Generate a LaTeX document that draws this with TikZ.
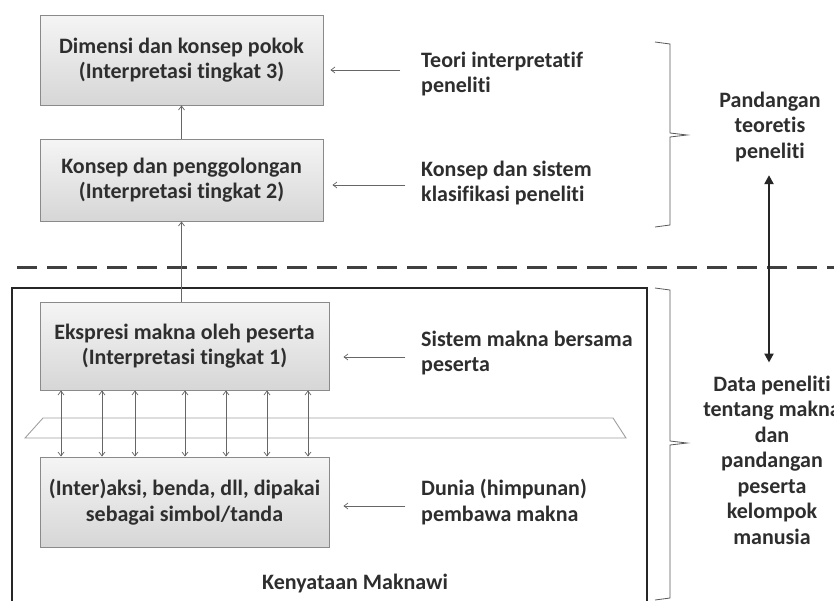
\documentclass[tikz,border=0pt]{standalone}
\usepackage{fontspec}
\setmainfont{Carlito}[Ligatures=NoCommon]
\usetikzlibrary{arrows.meta,calc}
\definecolor{txt}{HTML}{2E2E2E}
\definecolor{boxline}{HTML}{8A8A8A}
\begin{document}
\begin{tikzpicture}[x=1pt,y=-1pt,
  every node/.style={font=\fontsize{22}{25.5}\selectfont\bfseries, text=txt},
  sbox/.style={draw=boxline, line width=0.9pt, top color=gray!8, bottom color=gray!32, align=center, inner sep=0pt},
  lbl/.style={anchor=west, align=left, inner sep=0pt},
  rlbl/.style={align=center, inner sep=0pt},
  arr/.style={draw=gray!80!black, line width=0.7pt, -{Straight Barb[length=4pt,width=6pt]}},
  darr/.style={draw=gray!80!black, line width=0.7pt, {Straight Barb[length=4pt,width=6pt]}-{Straight Barb[length=4pt,width=6pt]}},
  brk/.style={draw=gray!70!black, line width=0.8pt},
  bigarr/.style={draw=black!85, line width=2.2pt, {Triangle[length=9pt,width=9pt]}-{Triangle[length=9pt,width=9pt]}}
]
\clip (0,0) rectangle (834,600);
\fill[white] (0,0) rectangle (834,600);

% dashed separator
\draw[draw=black!75, line width=3pt, dash pattern=on 20pt off 10pt] (17,267) -- (834,267);

% outer frame
\draw[black!85, line width=2pt] (12,288) rectangle (647,612);

% boxes
\node[sbox, minimum width=283pt, minimum height=90pt] (b3) at (181.5,60) {Dimensi dan konsep pokok\\(Interpretasi tingkat 3)};
\node[sbox, minimum width=283pt, minimum height=82pt] (b2) at (181.5,180) {Konsep dan penggolongan\\(Interpretasi tingkat 2)};
\node[sbox, minimum width=289pt, minimum height=88pt] (b1) at (184.5,346) {Ekspresi makna oleh peserta\\(Interpretasi tingkat 1)};
\node[sbox, minimum width=289pt, minimum height=90pt] (b0) at (184.5,502) {(Inter)aksi, benda, dll, dipakai\\sebagai simbol/tanda};

% parallelogram
\draw[draw=gray!75, line width=0.9pt] (25,438) -- (43,418) -- (613,418) -- (626,438) -- cycle;

% vertical arrows
\draw[arr] (b2) -- (b3);
\draw[arr] (b1.north -| b2) -- (b2.south);
\foreach \x in {61,102,135,185,226,267,308}{
  \coordinate (c\x) at (\x,0);
  \draw[darr] (b1.south -| c\x) -- (b0.north -| c\x);
}

% labels
\node[lbl] (t3) at (421,74) {Teori interpretatif\\peneliti};
\node[lbl] (t2) at (421,183) {Konsep dan sistem\\klasifikasi peneliti};
\node[lbl] (t1) at (421,353) {Sistem makna bersama\\peserta};
\node[lbl] (t0) at (421,502) {Dunia (himpunan)\\pembawa makna};

\coordinate (a3) at (400,70);
\coordinate (a2) at (405,185);
\coordinate (a1) at (405,357);
\coordinate (a0) at (405,506);
\draw[arr, shorten >=7pt] (a3) -- (a3 -| b3.east);
\draw[arr, shorten >=9pt] (a2) -- (a2 -| b2.east);
\draw[arr, shorten >=14pt] (a1) -- (a1 -| b1.east);
\draw[arr, shorten >=14pt] (a0) -- (a0 -| b0.east);

% brackets
\draw[brk] (655,42) -- (670,44) -- (670,133) -- (687,135) -- (670,137) -- (670,225) -- (655,227);
\draw[brk] (655,288) -- (670,290) -- (670,441) -- (687,443) -- (670,445) -- (670,598) -- (655,600);

% right labels
\node[rlbl] (pt) at (770,127) {Pandangan\\teoretis\\peneliti};
\node[rlbl] (dp) at (772,460) {Data peneliti\\tentang makna\\dan\\pandangan\\peserta\\kelompok\\manusia};
\draw[bigarr, shorten <=13pt, shorten >=13pt] (pt.south -| 769,0) -- (dp.north -| 769,0);

% bottom caption
\node (km) at (355,583) {Kenyataan Maknawi};
\end{tikzpicture}
\end{document}
